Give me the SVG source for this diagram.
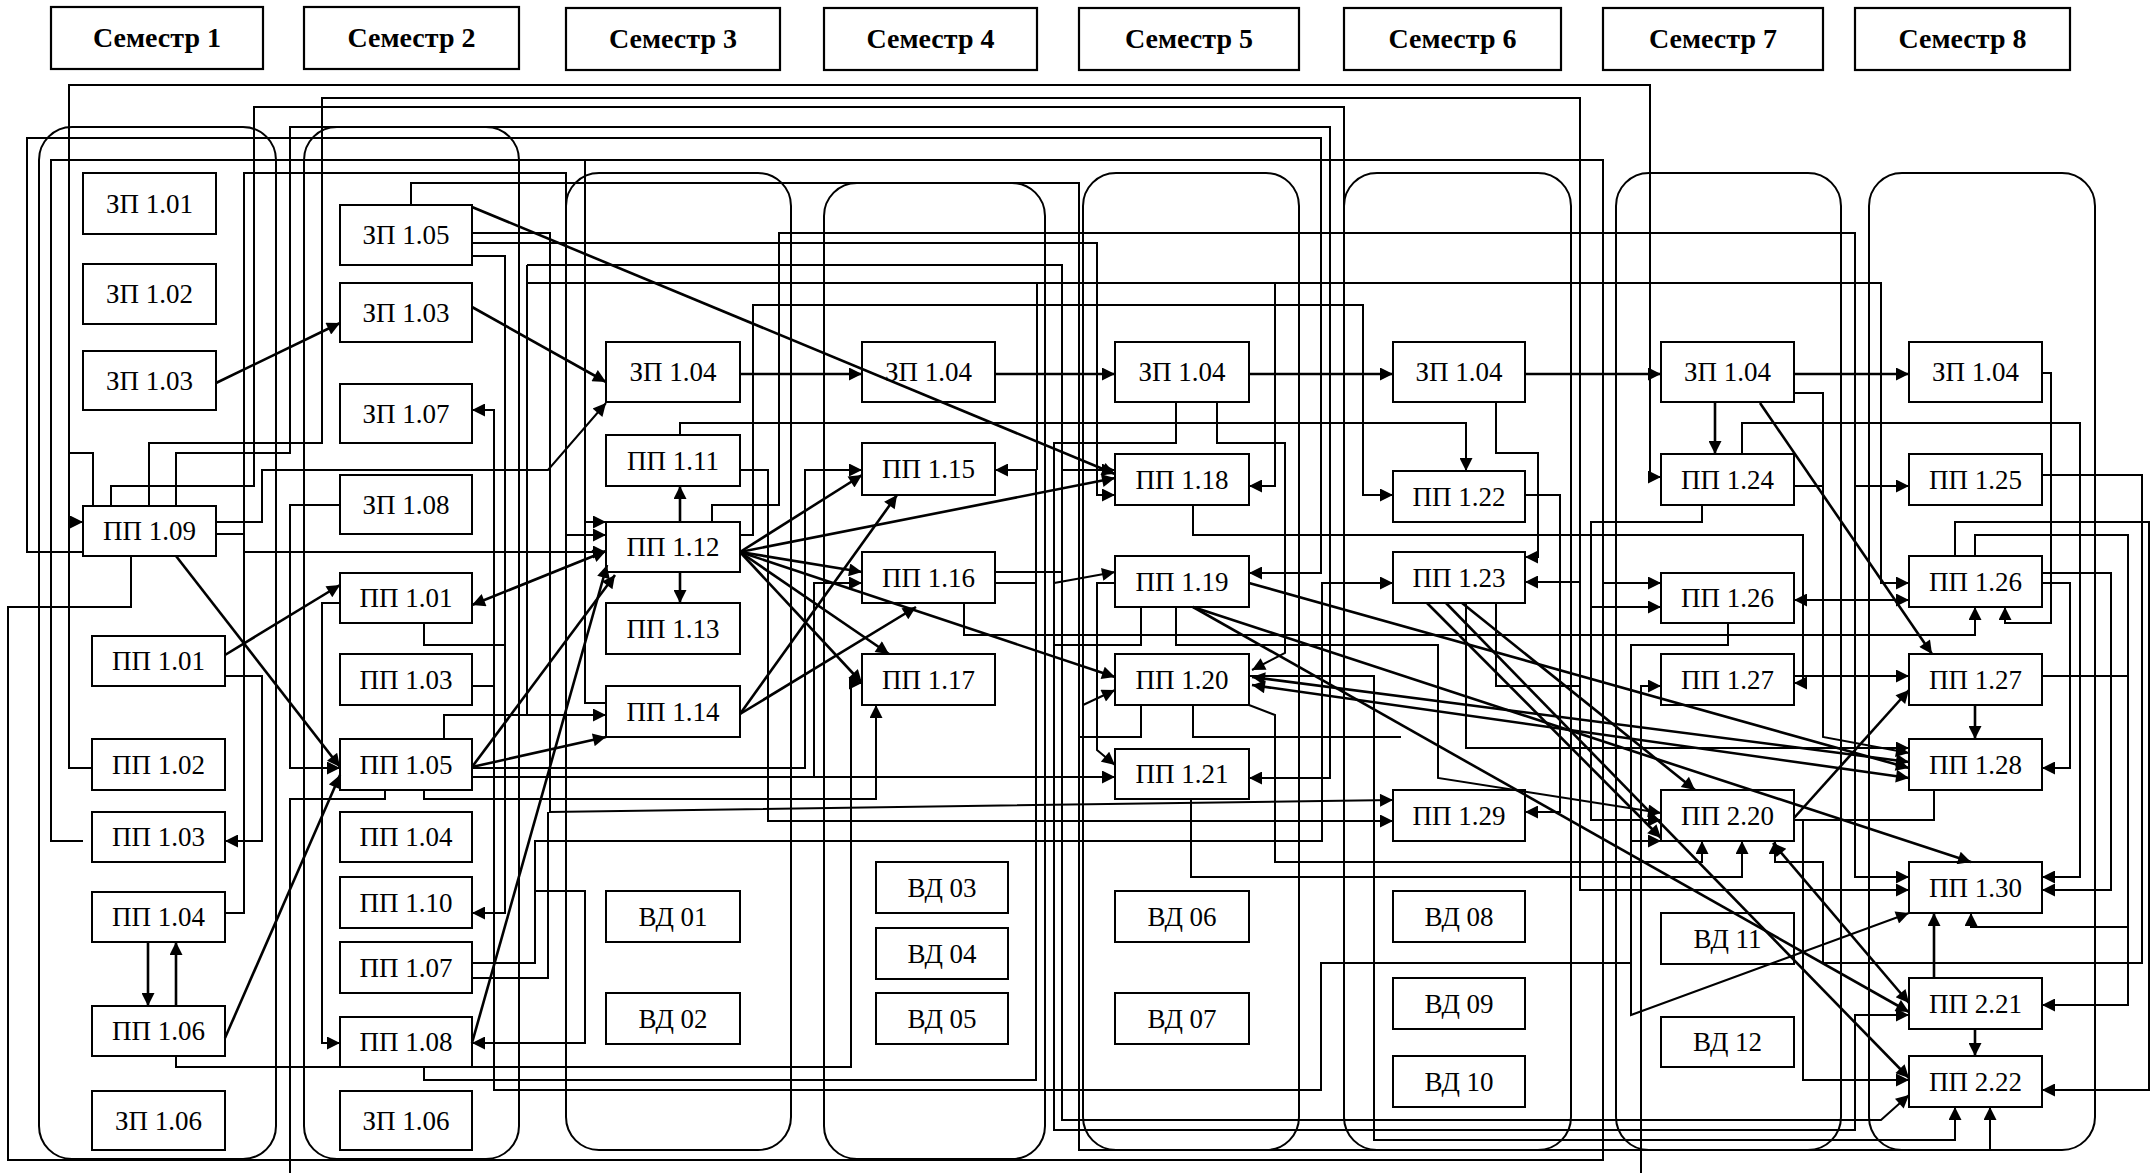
<svg xmlns="http://www.w3.org/2000/svg" width="2152" height="1173" viewBox="0 0 2152 1173">
<defs>
<marker id="m" viewBox="0 0 10 10" refX="10" refY="5" markerWidth="15" markerHeight="13" markerUnits="userSpaceOnUse" orient="auto-start-reverse"><path d="M0,0 L10,5 L0,10 z" fill="#000"/></marker>
<style>
.col{fill:none;stroke:#000;stroke-width:2}
.hdr rect{fill:#fff;stroke:#000;stroke-width:2.2}
.hdr text{font-family:"Liberation Serif","Times New Roman",serif;font-size:28px;font-weight:bold;text-anchor:middle}
.n rect{fill:#fff;stroke:#000;stroke-width:2}
.n text{font-family:"Liberation Serif","Times New Roman",serif;font-size:27px;text-anchor:middle}
.c path{fill:none;stroke:#000;stroke-width:2}
.c path.a{marker-end:url(#m)}
.c path.b{marker-start:url(#m)}
.c path.t{stroke-width:2.6}
</style>
</defs>
<rect width="2152" height="1173" fill="#fff"/>
<g id="headers" class="hdr">
<rect x="51" y="7" width="212" height="62"/><text x="157" y="47">Семестр 1</text>
<rect x="304" y="7" width="215" height="62"/><text x="411.5" y="47">Семестр 2</text>
<rect x="566" y="8" width="214" height="62"/><text x="673" y="48">Семестр 3</text>
<rect x="824" y="8" width="213" height="62"/><text x="930.5" y="48">Семестр 4</text>
<rect x="1079" y="8" width="220" height="62"/><text x="1189" y="48">Семестр 5</text>
<rect x="1344" y="8" width="217" height="62"/><text x="1452.5" y="48">Семестр 6</text>
<rect x="1603" y="8" width="220" height="62"/><text x="1713" y="48">Семестр 7</text>
<rect x="1855" y="8" width="215" height="62"/><text x="1962.5" y="48">Семестр 8</text>
</g>
<g id="columns">
<rect class="col" x="39" y="127" width="237" height="1032" rx="33"/>
<rect class="col" x="304" y="127" width="215" height="1032" rx="33"/>
<rect class="col" x="566" y="173" width="225" height="977" rx="33"/>
<rect class="col" x="824" y="183" width="221" height="976" rx="33"/>
<rect class="col" x="1083" y="173" width="216" height="977" rx="33"/>
<rect class="col" x="1344" y="173" width="227" height="977" rx="33"/>
<rect class="col" x="1616" y="173" width="225" height="977" rx="33"/>
<rect class="col" x="1869" y="173" width="226" height="977" rx="33"/>
</g>
<g id="nodes" class="n">
<g id="zp101-s1"><rect x="83" y="173" width="133" height="61"/><text x="149.5" y="213">ЗП 1.01</text></g>
<g id="zp102-s1"><rect x="83" y="264" width="133" height="60"/><text x="149.5" y="303">ЗП 1.02</text></g>
<g id="zp103-s1"><rect x="83" y="351" width="133" height="59"/><text x="149.5" y="390">ЗП 1.03</text></g>
<g id="pp109-s1"><rect x="83" y="506" width="133" height="50"/><text x="149.5" y="540">ПП 1.09</text></g>
<g id="pp101-s1"><rect x="92" y="636" width="133" height="50"/><text x="158.5" y="670">ПП 1.01</text></g>
<g id="pp102-s1"><rect x="92" y="739" width="133" height="51"/><text x="158.5" y="774">ПП 1.02</text></g>
<g id="pp103-s1"><rect x="92" y="812" width="133" height="50"/><text x="158.5" y="846">ПП 1.03</text></g>
<g id="pp104-s1"><rect x="92" y="892" width="133" height="50"/><text x="158.5" y="926">ПП 1.04</text></g>
<g id="pp106-s1"><rect x="92" y="1006" width="133" height="50"/><text x="158.5" y="1040">ПП 1.06</text></g>
<g id="zp106-s1"><rect x="92" y="1091" width="133" height="59"/><text x="158.5" y="1130">ЗП 1.06</text></g>

<g id="zp105-s2"><rect x="340" y="205" width="132" height="60"/><text x="406" y="244">ЗП 1.05</text></g>
<g id="zp103-s2"><rect x="340" y="283" width="132" height="59"/><text x="406" y="322">ЗП 1.03</text></g>
<g id="zp107-s2"><rect x="340" y="384" width="132" height="59"/><text x="406" y="423">ЗП 1.07</text></g>
<g id="zp108-s2"><rect x="340" y="475" width="132" height="59"/><text x="406" y="514">ЗП 1.08</text></g>
<g id="pp101-s2"><rect x="340" y="573" width="132" height="50"/><text x="406" y="607">ПП 1.01</text></g>
<g id="pp103-s2"><rect x="340" y="654" width="132" height="51"/><text x="406" y="689">ПП 1.03</text></g>
<g id="pp105-s2"><rect x="340" y="739" width="132" height="51"/><text x="406" y="774">ПП 1.05</text></g>
<g id="pp104-s2"><rect x="340" y="812" width="132" height="50"/><text x="406" y="846">ПП 1.04</text></g>
<g id="pp110-s2"><rect x="340" y="877" width="132" height="51"/><text x="406" y="912">ПП 1.10</text></g>
<g id="pp107-s2"><rect x="340" y="942" width="132" height="51"/><text x="406" y="977">ПП 1.07</text></g>
<g id="pp108-s2"><rect x="340" y="1017" width="132" height="50"/><text x="406" y="1051">ПП 1.08</text></g>
<g id="zp106-s2"><rect x="340" y="1091" width="132" height="59"/><text x="406" y="1130">ЗП 1.06</text></g>

<g id="zp104-s3"><rect x="606" y="342" width="134" height="60"/><text x="673" y="381">ЗП 1.04</text></g>
<g id="pp111-s3"><rect x="606" y="435" width="134" height="51"/><text x="673" y="470">ПП 1.11</text></g>
<g id="pp112-s3"><rect x="606" y="522" width="134" height="50"/><text x="673" y="556">ПП 1.12</text></g>
<g id="pp113-s3"><rect x="606" y="603" width="134" height="51"/><text x="673" y="638">ПП 1.13</text></g>
<g id="pp114-s3"><rect x="606" y="686" width="134" height="51"/><text x="673" y="721">ПП 1.14</text></g>
<g id="vd01-s3"><rect x="606" y="891" width="134" height="51"/><text x="673" y="926">ВД 01</text></g>
<g id="vd02-s3"><rect x="606" y="993" width="134" height="51"/><text x="673" y="1028">ВД 02</text></g>

<g id="zp104-s4"><rect x="862" y="342" width="133" height="60"/><text x="928.5" y="381">ЗП 1.04</text></g>
<g id="pp115-s4"><rect x="862" y="443" width="133" height="52"/><text x="928.5" y="478">ПП 1.15</text></g>
<g id="pp116-s4"><rect x="862" y="552" width="133" height="51"/><text x="928.5" y="587">ПП 1.16</text></g>
<g id="pp117-s4"><rect x="862" y="654" width="133" height="51"/><text x="928.5" y="689">ПП 1.17</text></g>
<g id="vd03-s4"><rect x="876" y="862" width="132" height="51"/><text x="942" y="897">ВД 03</text></g>
<g id="vd04-s4"><rect x="876" y="928" width="132" height="51"/><text x="942" y="963">ВД 04</text></g>
<g id="vd05-s4"><rect x="876" y="993" width="132" height="51"/><text x="942" y="1028">ВД 05</text></g>

<g id="zp104-s5"><rect x="1115" y="342" width="134" height="60"/><text x="1182" y="381">ЗП 1.04</text></g>
<g id="pp118-s5"><rect x="1115" y="454" width="134" height="51"/><text x="1182" y="489">ПП 1.18</text></g>
<g id="pp119-s5"><rect x="1115" y="556" width="134" height="51"/><text x="1182" y="591">ПП 1.19</text></g>
<g id="pp120-s5"><rect x="1115" y="654" width="134" height="51"/><text x="1182" y="689">ПП 1.20</text></g>
<g id="pp121-s5"><rect x="1115" y="749" width="134" height="50"/><text x="1182" y="783">ПП 1.21</text></g>
<g id="vd06-s5"><rect x="1115" y="891" width="134" height="51"/><text x="1182" y="926">ВД 06</text></g>
<g id="vd07-s5"><rect x="1115" y="993" width="134" height="51"/><text x="1182" y="1028">ВД 07</text></g>

<g id="zp104-s6"><rect x="1393" y="342" width="132" height="60"/><text x="1459" y="381">ЗП 1.04</text></g>
<g id="pp122-s6"><rect x="1393" y="471" width="132" height="51"/><text x="1459" y="506">ПП 1.22</text></g>
<g id="pp123-s6"><rect x="1393" y="552" width="132" height="51"/><text x="1459" y="587">ПП 1.23</text></g>
<g id="pp129-s6"><rect x="1393" y="790" width="132" height="51"/><text x="1459" y="825">ПП 1.29</text></g>
<g id="vd08-s6"><rect x="1393" y="891" width="132" height="51"/><text x="1459" y="926">ВД 08</text></g>
<g id="vd09-s6"><rect x="1393" y="978" width="132" height="51"/><text x="1459" y="1013">ВД 09</text></g>
<g id="vd10-s6"><rect x="1393" y="1056" width="132" height="51"/><text x="1459" y="1091">ВД 10</text></g>

<g id="zp104-s7"><rect x="1661" y="342" width="133" height="60"/><text x="1727.5" y="381">ЗП 1.04</text></g>
<g id="pp124-s7"><rect x="1661" y="454" width="133" height="51"/><text x="1727.5" y="489">ПП 1.24</text></g>
<g id="pp126-s7"><rect x="1661" y="573" width="133" height="50"/><text x="1727.5" y="607">ПП 1.26</text></g>
<g id="pp127-s7"><rect x="1661" y="654" width="133" height="51"/><text x="1727.5" y="689">ПП 1.27</text></g>
<g id="pp220-s7"><rect x="1661" y="790" width="133" height="51"/><text x="1727.5" y="825">ПП 2.20</text></g>
<g id="vd11-s7"><rect x="1661" y="913" width="133" height="51"/><text x="1727.5" y="948">ВД 11</text></g>
<g id="vd12-s7"><rect x="1661" y="1017" width="133" height="50"/><text x="1727.5" y="1051">ВД 12</text></g>

<g id="zp104-s8"><rect x="1909" y="342" width="133" height="60"/><text x="1975.5" y="381">ЗП 1.04</text></g>
<g id="pp125-s8"><rect x="1909" y="454" width="133" height="51"/><text x="1975.5" y="489">ПП 1.25</text></g>
<g id="pp126-s8"><rect x="1909" y="556" width="133" height="51"/><text x="1975.5" y="591">ПП 1.26</text></g>
<g id="pp127-s8"><rect x="1909" y="654" width="133" height="51"/><text x="1975.5" y="689">ПП 1.27</text></g>
<g id="pp128-s8"><rect x="1909" y="739" width="133" height="51"/><text x="1975.5" y="774">ПП 1.28</text></g>
<g id="pp130-s8"><rect x="1909" y="862" width="133" height="51"/><text x="1975.5" y="897">ПП 1.30</text></g>
<g id="pp221-s8"><rect x="1909" y="978" width="133" height="51"/><text x="1975.5" y="1013">ПП 2.21</text></g>
<g id="pp222-s8"><rect x="1909" y="1056" width="133" height="51"/><text x="1975.5" y="1091">ПП 2.22</text></g>
</g>
<g id="connectors" class="c">
<path class="a" d="M92,768 H69 V85 H1650 V477 H1661"/>
<path class="a" d="M69,522 H83"/>
<path d="M69,453 H93 V506"/>
<path class="a" d="M149,506 V443 H322 V98 H1580 V582 H1525"/>
<path class="a" d="M1580,582 V890 H1909"/>
<path d="M1496,603 V686 H1580"/>
<path d="M111,506 V486 H254 V107 H1344 V1120"/>
<path class="a" d="M176,506 V453 H290 V127 H1330 V778 H1249"/>
<path class="a" d="M83,552 H27 V138 H1321 V573 H1249"/>
<path d="M83,841 H51 V160 H1603 V1160 H8 V607 H131 V556"/>
<path class="a" d="M1603,583 H1661"/>
<path class="a" d="M216,534 H244 V552 H606"/>
<path class="a" d="M225,913 H244 V173 H566 V535 H606"/>
<path class="a" d="M411,205 V183 H1079 V1150 H1990 V1107"/>
<path class="a" d="M472,233 H550 V812 L1393,800"/>
<path class="a" d="M472,243 H1097 V495 H1115"/>
<path class="a" d="M472,256 H505 V913 H472"/>
<path d="M424,623 V645 H505"/>
<path class="a" d="M444,739 V715 H606"/>
<path d="M527,265 V715"/>
<path class="a" d="M527,265 H1062 V1120 H1881 L1909,1095"/>
<path class="a" d="M527,283 H1881 V583 H1909"/>
<path class="a" d="M1275,283 V486 H1249"/>
<path d="M1037,283 V470"/>
<path class="a" d="M424,1067 V1080 H1036 V470 H995"/>
<path class="a" d="M712,522 V505 H779 V233 H1855 V877 H1909"/>
<path class="a" d="M1855,486 H1909"/>
<path class="a" d="M740,535 H753 V305 H1363 V495 H1393"/>
<path class="a" d="M740,470 H768 V821 H1393"/>
<path class="a" d="M680,435 V423 H1466 V471"/>
<path d="M585,160 V703 H606"/>
<path class="a" d="M585,522 H606"/>
<path class="a t" d="M740,374 H862"/>
<path class="a t" d="M995,374 H1115"/>
<path class="a t" d="M1249,374 H1393"/>
<path class="a t" d="M1525,374 H1661"/>
<path class="a t" d="M1794,374 H1909"/>
<path class="a t" d="M1715,402 V454"/>
<path class="a t" d="M1760,403 L1932,654"/>
<path class="a t" d="M216,383 L340,323"/>
<path class="a t" d="M472,307 L606,382"/>
<path class="a t" d="M472,207 L1115,474"/>
<path class="a t" d="M176,556 L340,767"/>
<path class="a t" d="M225,655 L340,585"/>
<path class="a b t" d="M472,605 L606,551"/>
<path class="a" d="M340,505 H290 V768 H340"/>
<path d="M385,790 V799 H290 V1173"/>
<path class="a" d="M424,790 V799 H876 V705"/>
<path class="a" d="M340,603 H322 V1043 H340"/>
<path class="a" d="M472,686 H494 V410 H472"/>
<path class="a" d="M494,686 V1090 H1321 V963 H1631 V1015 L1909,913"/>
<path class="a" d="M225,676 H262 V841 H225"/>
<path class="a" d="M216,522 H262 V470 H548 L606,403"/>
<path class="a" d="M176,1056 V1067 H851 V683 H862"/>
<path class="a" d="M472,963 H535 V841 H1322 V583 H1393"/>
<path d="M472,978 H548 V812"/>
<path class="a" d="M535,891 H585 V1043 H472"/>
<path class="a" d="M472,768 H805 V470 H862"/>
<path class="a" d="M472,777 H1115"/>
<path class="a" d="M814,777 V583 H862"/>
<path class="a t" d="M148,942 V1006"/>
<path class="a t" d="M176,1006 V942"/>
<path class="a t" d="M225,1038 L340,775"/>
<path class="a t" d="M472,767 L615,575"/>
<path class="a t" d="M472,1043 L607,565"/>
<path class="a t" d="M472,767 L606,737"/>
<path class="a t" d="M680,522 V486"/>
<path class="a t" d="M680,572 V603"/>
<path class="a t" d="M740,552 L862,475"/>
<path class="a t" d="M740,552 L1115,478"/>
<path class="a t" d="M740,552 L862,572"/>
<path class="a t" d="M740,552 L889,654"/>
<path class="a t" d="M740,552 L862,683"/>
<path class="a t" d="M740,552 L1115,677"/>
<path class="a t" d="M740,714 L897,495"/>
<path class="a t" d="M740,714 L916,607"/>
<path d="M995,572 H1062"/>
<path class="a" d="M1062,470 H1115"/>
<path d="M995,583 H1036"/>
<path class="a" d="M1176,402 V443 H1054 V583 L1115,572"/>
<path class="a" d="M1054,583 V1130 H1855 V1015 H1909"/>
<path class="a" d="M1217,402 V443 H1285 V653 L1252,670"/>
<path class="a" d="M1115,583 H1097 V750 L1115,765"/>
<path class="a" d="M1249,676 H1374 V1140 H1955 V1107"/>
<path class="a" d="M1249,705 L1275,715 V862 H1702 V841"/>
<path class="a" d="M1191,799 V877 H1742 V841"/>
<path class="a" d="M1193,505 V535 H1803 V683 H1794"/>
<path class="a" d="M964,603 V635 H1975 V607"/>
<path d="M1728,623 V645 H1631 V1015"/>
<path class="a" d="M1631,841 H1661"/>
<path class="a" d="M1176,607 V645 H1438 V778 L1661,813"/>
<path d="M1141,607 V645 H1054"/>
<path d="M1141,705 V737 H1079"/>
<path d="M1193,705 V737 H1401"/>
<path class="a" d="M1083,705 L1115,690"/>
<path class="a" d="M1466,603 V748 H1909"/>
<path class="a" d="M1496,402 V453 H1538 V557 H1525"/>
<path class="a" d="M1525,495 H1560 V812 H1525"/>
<path class="a" d="M1702,505 V522 H1591 V820 H1661"/>
<path class="a" d="M1591,607 H1661"/>
<path class="a" d="M1742,454 V423 H2080 V877 H2042"/>
<path class="a" d="M1794,393 H1823 V737 L1909,753"/>
<path d="M1794,486 H1823"/>
<path class="a" d="M2042,475 H2142 V963 H1823 V862 H1775 V841"/>
<path class="a" d="M1955,556 V522 H2149 V1090 H2042"/>
<path class="a" d="M1975,556 V535 H2128 V1005 H2042"/>
<path class="a" d="M2128,927 H1971 V913"/>
<path d="M2042,676 H2128"/>
<path class="a" d="M2042,573 H2111 V890 H2042"/>
<path class="a" d="M2042,583 H2070 V768 H2042"/>
<path class="a" d="M2042,373 H2051 V623 H2005 V607"/>
<path class="a b" d="M1794,600 H1909"/>
<path class="a" d="M1794,676 H1909"/>
<path class="a" d="M1641,1173 V686 H1661"/>
<path class="a t" d="M1975,705 V739"/>
<path class="a t" d="M1794,818 L1909,690"/>
<path class="a" d="M1794,820 H1803 V1080 H1909"/>
<path d="M1803,820 H1934 V790"/>
<path class="a t" d="M1934,978 V913"/>
<path class="a t" d="M1975,1029 V1056"/>
<path class="a b t" d="M1773,843 L1909,1003"/>
<path class="a b t" d="M1252,677 L1909,762"/>
<path class="a b t" d="M1252,685 L1909,778"/>
<path class="a t" d="M1249,583 L1909,768"/>
<path class="a t" d="M1193,607 L1971,862"/>
<path class="a t" d="M1193,607 L1909,1012"/>
<path class="a t" d="M1427,603 L1661,838"/>
<path class="a t" d="M1446,603 L1909,1078"/>
<path class="a t" d="M1462,603 L1695,790"/>
</g>
</svg>
